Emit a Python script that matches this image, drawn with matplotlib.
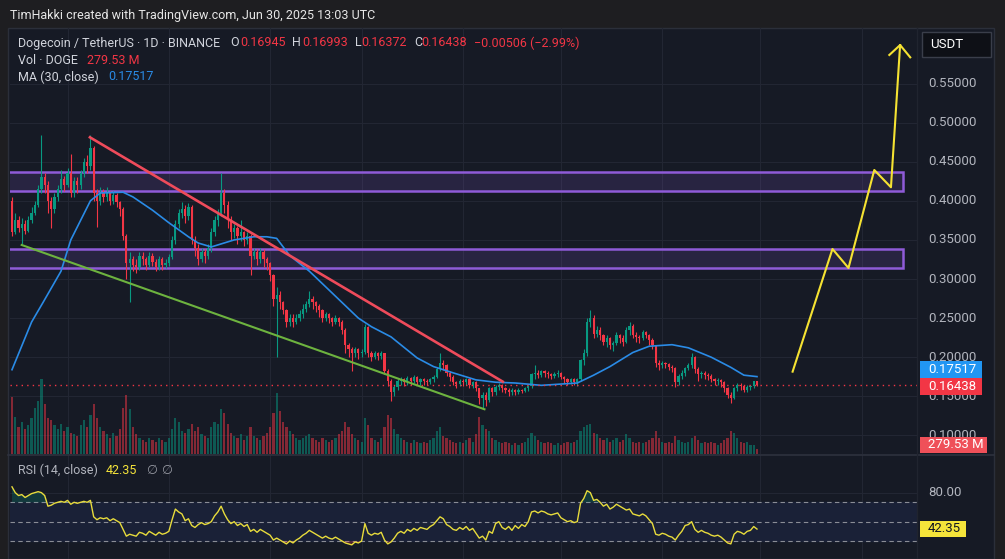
import matplotlib
matplotlib.use("Agg")
import matplotlib.pyplot as plt
import matplotlib.transforms as mtransforms
from matplotlib.patches import Rectangle
from matplotlib.lines import Line2D
import numpy as np

plt.rcParams['font.family'] = ['Roboto', 'DejaVu Sans']

# DOGE/USDT daily candles, 14 Nov 2024 .. 30 Jun 2025
first_open = 0.40
closes = [0.360, 0.375, 0.365, 0.370, 0.362, 0.375, 0.385, 0.395, 0.415, 0.430,
          0.420, 0.400, 0.390, 0.405, 0.415, 0.428, 0.420, 0.435, 0.410, 0.425,
          0.420, 0.435, 0.450, 0.445, 0.467, 0.410, 0.400, 0.410, 0.405, 0.410,
          0.400, 0.408, 0.398, 0.390, 0.355, 0.320, 0.325, 0.318, 0.315, 0.330,
          0.325, 0.318, 0.330, 0.322, 0.315, 0.325, 0.318, 0.320, 0.328, 0.350,
          0.370, 0.385, 0.390, 0.380, 0.392, 0.350, 0.340, 0.325, 0.335, 0.330,
          0.340, 0.360, 0.375, 0.385, 0.410, 0.395, 0.375, 0.360, 0.365, 0.355,
          0.360, 0.350, 0.355, 0.330, 0.335, 0.325, 0.335, 0.325, 0.320, 0.305,
          0.275, 0.280, 0.270, 0.260, 0.245, 0.250, 0.245, 0.250, 0.255, 0.262,
          0.268, 0.275, 0.270, 0.265, 0.260, 0.250, 0.255, 0.250, 0.245, 0.250,
          0.245, 0.235, 0.215, 0.210, 0.205, 0.210, 0.205, 0.207, 0.238, 0.205,
          0.200, 0.205, 0.202, 0.205, 0.182, 0.170, 0.155, 0.162, 0.170, 0.172,
          0.168, 0.174, 0.170, 0.175, 0.168, 0.172, 0.170, 0.168, 0.172, 0.175,
          0.185, 0.193, 0.190, 0.180, 0.175, 0.168, 0.166, 0.170, 0.168, 0.172,
          0.165, 0.168, 0.160, 0.148, 0.152, 0.145, 0.160, 0.155, 0.162, 0.165,
          0.160, 0.158, 0.155, 0.158, 0.156, 0.158, 0.157, 0.160, 0.163, 0.178,
          0.180, 0.177, 0.182, 0.180, 0.178, 0.176, 0.178, 0.180, 0.175, 0.172,
          0.168, 0.172, 0.168, 0.172, 0.196, 0.205, 0.245, 0.250, 0.230, 0.235,
          0.228, 0.220, 0.225, 0.215, 0.218, 0.228, 0.225, 0.220, 0.235, 0.240,
          0.228, 0.226, 0.225, 0.232, 0.228, 0.222, 0.215, 0.193, 0.190, 0.192,
          0.191, 0.188, 0.186, 0.168, 0.176, 0.180, 0.186, 0.190, 0.200, 0.185,
          0.178, 0.180, 0.177, 0.176, 0.172, 0.170, 0.171, 0.168, 0.160, 0.152,
          0.148, 0.160, 0.165, 0.163, 0.158, 0.162, 0.163, 0.16945, 0.16438]
highs = [0.405, 0.385, 0.380, 0.378, 0.375, 0.380, 0.392, 0.400, 0.420, 0.484,
         0.435, 0.425, 0.405, 0.410, 0.420, 0.440, 0.432, 0.442, 0.460, 0.430,
         0.430, 0.440, 0.455, 0.458, 0.484, 0.470, 0.415, 0.418, 0.415, 0.418,
         0.412, 0.412, 0.410, 0.400, 0.392, 0.358, 0.335, 0.330, 0.325, 0.335,
         0.335, 0.328, 0.335, 0.333, 0.325, 0.330, 0.328, 0.326, 0.332, 0.355,
         0.375, 0.390, 0.398, 0.395, 0.397, 0.394, 0.355, 0.345, 0.340, 0.338,
         0.345, 0.365, 0.380, 0.390, 0.435, 0.415, 0.400, 0.380, 0.370, 0.368,
         0.375, 0.362, 0.360, 0.358, 0.340, 0.338, 0.340, 0.338, 0.328, 0.322,
         0.307, 0.290, 0.285, 0.272, 0.262, 0.255, 0.255, 0.255, 0.260, 0.268,
         0.272, 0.285, 0.278, 0.272, 0.268, 0.262, 0.258, 0.257, 0.252, 0.254,
         0.252, 0.248, 0.237, 0.218, 0.213, 0.213, 0.212, 0.210, 0.242, 0.240,
         0.208, 0.208, 0.207, 0.208, 0.206, 0.185, 0.172, 0.165, 0.172, 0.175,
         0.174, 0.176, 0.175, 0.177, 0.176, 0.174, 0.173, 0.172, 0.174, 0.177,
         0.187, 0.206, 0.196, 0.191, 0.182, 0.177, 0.170, 0.172, 0.172, 0.174,
         0.173, 0.170, 0.169, 0.161, 0.156, 0.155, 0.162, 0.162, 0.164, 0.167,
         0.166, 0.162, 0.160, 0.160, 0.159, 0.160, 0.159, 0.162, 0.165, 0.180,
         0.190, 0.183, 0.184, 0.184, 0.182, 0.180, 0.181, 0.183, 0.181, 0.176,
         0.174, 0.174, 0.173, 0.174, 0.198, 0.210, 0.250, 0.260, 0.254, 0.240,
         0.238, 0.230, 0.228, 0.226, 0.221, 0.232, 0.230, 0.228, 0.238, 0.245,
         0.242, 0.232, 0.229, 0.235, 0.234, 0.230, 0.224, 0.216, 0.196, 0.195,
         0.194, 0.193, 0.190, 0.188, 0.178, 0.183, 0.188, 0.192, 0.206, 0.201,
         0.187, 0.182, 0.182, 0.180, 0.178, 0.174, 0.173, 0.172, 0.170, 0.162,
         0.155, 0.162, 0.167, 0.167, 0.165, 0.164, 0.165, 0.170, 0.16993]
lows = [0.355, 0.358, 0.360, 0.345, 0.358, 0.360, 0.372, 0.382, 0.392, 0.410,
        0.410, 0.385, 0.365, 0.385, 0.400, 0.410, 0.412, 0.418, 0.405, 0.405,
        0.410, 0.415, 0.430, 0.435, 0.440, 0.400, 0.367, 0.395, 0.398, 0.400,
        0.395, 0.396, 0.392, 0.380, 0.350, 0.300, 0.270, 0.310, 0.308, 0.312,
        0.318, 0.312, 0.315, 0.316, 0.310, 0.312, 0.312, 0.314, 0.316, 0.325,
        0.345, 0.365, 0.378, 0.372, 0.375, 0.345, 0.330, 0.318, 0.322, 0.320,
        0.325, 0.335, 0.355, 0.368, 0.380, 0.385, 0.365, 0.350, 0.352, 0.345,
        0.348, 0.342, 0.345, 0.305, 0.325, 0.318, 0.320, 0.315, 0.312, 0.298,
        0.265, 0.200, 0.262, 0.255, 0.238, 0.240, 0.238, 0.242, 0.246, 0.250,
        0.258, 0.264, 0.262, 0.258, 0.252, 0.245, 0.246, 0.244, 0.240, 0.242,
        0.240, 0.230, 0.205, 0.200, 0.182, 0.200, 0.198, 0.200, 0.204, 0.200,
        0.195, 0.198, 0.196, 0.198, 0.178, 0.163, 0.144, 0.150, 0.158, 0.165,
        0.163, 0.165, 0.165, 0.167, 0.164, 0.165, 0.165, 0.164, 0.166, 0.168,
        0.173, 0.182, 0.184, 0.176, 0.170, 0.164, 0.161, 0.163, 0.163, 0.165,
        0.160, 0.160, 0.157, 0.140, 0.134, 0.137, 0.143, 0.151, 0.152, 0.158,
        0.156, 0.154, 0.151, 0.152, 0.152, 0.153, 0.154, 0.155, 0.157, 0.161,
        0.172, 0.173, 0.175, 0.175, 0.174, 0.172, 0.173, 0.175, 0.172, 0.167,
        0.164, 0.166, 0.165, 0.163, 0.170, 0.190, 0.202, 0.238, 0.225, 0.226,
        0.222, 0.215, 0.213, 0.210, 0.208, 0.215, 0.218, 0.214, 0.218, 0.228,
        0.224, 0.220, 0.218, 0.222, 0.224, 0.216, 0.210, 0.188, 0.184, 0.186,
        0.186, 0.183, 0.181, 0.162, 0.164, 0.172, 0.176, 0.183, 0.186, 0.180,
        0.170, 0.174, 0.172, 0.171, 0.168, 0.164, 0.165, 0.162, 0.155, 0.148,
        0.142, 0.146, 0.157, 0.158, 0.155, 0.155, 0.158, 0.161, 0.16372]
# volume in millions of DOGE
volumes = [3200, 2100, 1500, 1800, 1400, 1600, 2000, 2600, 3000, 4200, 2800, 2000, 1900,
           1600, 1400, 1700, 1300, 1500, 1200, 1100, 1000, 1600, 1900, 1500, 2200,
           2800, 2000, 1500, 1300, 1100, 900, 1200, 1000, 1400, 2600, 3300, 2500,
           1500, 1100, 900, 800, 700, 900, 800, 700, 900, 800, 700, 900,
           1400, 2000, 1800, 1300, 1200, 1400, 1700, 1300, 1500, 1100, 1000, 900,
           1500, 1800, 1700, 2500, 2300, 1700, 1200, 1000, 900, 1100, 800, 1000,
           1500, 1000, 900, 800, 1000, 1200, 1500, 2300, 3400, 2400, 1800, 1500,
           1300, 1100, 900, 800, 900, 1000, 1100, 900, 800, 700, 900, 800,
           700, 800, 900, 1100, 1300, 1800, 1500, 1100, 900, 800, 700, 2000,
           1600, 900, 800, 700, 900, 1500, 2200, 2000, 1400, 1100, 900, 800,
           700, 600, 800, 700, 600, 700, 600, 800, 900, 1300, 1500, 1000,
           900, 800, 700, 600, 700, 600, 800, 900, 700, 1100, 2100, 1600,
           1400, 1300, 900, 800, 700, 600, 700, 600, 500, 600, 500, 600,
           700, 900, 1200, 1000, 800, 700, 600, 700, 600, 500, 600, 500,
           600, 700, 600, 700, 800, 1300, 1500, 1600, 1700, 1200, 1100, 900,
           800, 900, 700, 800, 900, 700, 800, 1100, 900, 700, 600, 700,
           600, 700, 800, 900, 1300, 900, 700, 600, 700, 600, 1000, 800,
           700, 600, 700, 900, 1000, 800, 600, 700, 600, 700, 600, 500,
           600, 800, 900, 1300, 1200, 900, 700, 600, 700, 500, 500, 280]
rsi = [86, 80, 77, 78, 75, 77, 79, 80, 81, 80,
       77, 66, 67, 69, 70, 71, 70, 72, 68, 70,
       69, 70, 71, 70, 72, 55, 52, 54, 53, 54,
       51, 53, 51, 49, 42, 35, 37, 36, 35, 39,
       38, 36, 40, 38, 36, 39, 37, 38, 40, 52,
       63, 60, 58, 51, 53, 46, 44, 47, 49, 47,
       48, 50, 56, 60, 66, 58, 52, 48, 50, 46,
       48, 45, 47, 40, 42, 39, 42, 40, 38, 36,
       31, 33, 31, 29, 27, 30, 28, 31, 33, 36,
       38, 41, 39, 37, 35, 33, 35, 33, 32, 34,
       32, 30, 28, 27, 26, 29, 28, 30, 48, 38,
       36, 38, 37, 39, 31, 27, 29, 33, 38, 40,
       38, 42, 40, 43, 41, 44, 43, 42, 45, 47,
       51, 55, 53, 47, 45, 42, 41, 44, 42, 45,
       41, 43, 38, 33, 35, 31, 40, 38, 48, 50,
       44, 42, 45, 41, 46, 43, 47, 45, 50, 60,
       61, 59, 61, 60, 58, 57, 58, 59, 54, 52,
       50, 51, 49, 50, 69, 74, 82, 80, 72, 73,
       70, 66, 68, 63, 65, 68, 66, 64, 62, 63,
       58, 57, 56, 58, 56, 52, 48, 37, 36, 38,
       37, 35, 34, 31, 36, 40, 46, 47, 50, 42,
       39, 41, 39, 38, 36, 35, 36, 34, 31, 28,
       27, 37, 40, 39, 37, 40, 41, 45, 42.35]
ma_days = [0, 6, 9.5, 15, 18, 24, 27, 34, 37, 43, 48, 54, 57, 61, 68, 74, 78, 81,
           85, 91, 96, 101, 106, 110, 116, 124, 129, 135, 142, 148, 154, 162, 173,
           178, 183, 190, 195, 202, 207, 214, 220, 224, 228]
ma_values = [0.184, 0.245, 0.270, 0.310, 0.350, 0.400, 0.410, 0.411, 0.405, 0.388,
             0.372, 0.354, 0.346, 0.341, 0.350, 0.354, 0.354, 0.352, 0.330, 0.310,
             0.290, 0.270, 0.250, 0.239, 0.226, 0.199, 0.188, 0.180, 0.171, 0.168,
             0.167, 0.164, 0.167, 0.177, 0.188, 0.206, 0.214, 0.216, 0.212, 0.200,
             0.187, 0.177, 0.17517]

price_ticks = [0.55, 0.50, 0.45, 0.40, 0.35, 0.30, 0.25, 0.20, 0.15, 0.10]
month_days = [17, 48, 79, 107, 138, 168, 199, 229, 260]
zone_bottoms = [0.4125, 0.3137]
zone_tops = [0.4364, 0.3380]
zone_end_day = 272.8
red_line_days = [23.85, 150.2]
red_line_prices = [0.4812, 0.1687]
green_line_days = [2.97, 144.6]
green_line_prices = [0.3435, 0.1334]
path_days = [238.9, 251.1, 256.0, 263.9, 269.0, 271.8]
path_prices = [0.1815, 0.3384, 0.3141, 0.4394, 0.4173, 0.5992]
arrow_days = [268.5, 271.8, 274.9]
arrow_prices = [0.5865, 0.5992, 0.5835]

W, H = 1005, 559
BG = '#161a25'
GRID = '#222633'
TXT = '#d1d4dc'
AXT = '#b2b5be'
UP = '#089981'
DOWN = '#f23645'


def fx(x):
    return x / W


def fy(y):
    return 1 - y / H


fig = plt.figure(figsize=(W / 100, H / 100), dpi=100, facecolor='#1e1e21')
fig.patches.append(Rectangle((fx(8), 0), fx(994) - fx(8), fy(28), transform=fig.transFigure,
                             facecolor=BG, edgecolor='#2b2f3a', lw=1, zorder=-1))

rect_main = [fx(10), fy(454), fx(917) - fx(10), (454 - 28) / H]
ax_vol = fig.add_axes(rect_main)
ax = fig.add_axes(rect_main)
ax_rsi = fig.add_axes([fx(10), 0, fx(917) - fx(10), (559 - 455) / H])
for a in (ax_vol, ax, ax_rsi):
    a.set_facecolor('none')
    a.set_xticks([])
    a.set_yticks([])
    for s in a.spines.values():
        s.set_visible(False)

days = np.arange(len(closes))
c = np.array(closes)
o = np.concatenate([[first_open], c[:-1]])
up = c >= o
cols = np.where(up, UP, DOWN)

# grid
for d in month_days:
    ax_vol.axvline(d, color=GRID, lw=0.8, zorder=0)
    ax_rsi.axvline(d, color=GRID, lw=0.8, zorder=0)
ax_vol.hlines(price_ticks, -1, 280, colors=GRID, lw=0.8, transform=ax.transData, zorder=0)

# volume
ax_vol.bar(days, volumes, width=0.68, color=cols, alpha=0.5, linewidth=0)

# zones
for lo, hi in zip(zone_bottoms, zone_tops):
    ax.add_patch(Rectangle((-2, lo), zone_end_day + 2, hi - lo, facecolor='#7e57c2',
                           alpha=0.18, edgecolor='none', zorder=1))
    ax.add_patch(Rectangle((-2, lo), zone_end_day + 2, hi - lo, facecolor='none',
                           edgecolor='#8f5bd8', lw=1.8, zorder=1))

# candles
ax.vlines(days, lows, highs, colors=cols, lw=0.8, zorder=2)
ax.bar(days, np.maximum(np.abs(c - o), 0.0012), bottom=np.minimum(o, c), width=0.68,
       color=cols, linewidth=0, zorder=3)

ax.plot(ma_days, ma_values, color='#2a8be6', lw=1.2, zorder=4)
ax.axhline(closes[-1], color=DOWN, lw=1, ls=(0, (1, 3)), zorder=4)

ax.plot(red_line_days, red_line_prices, color='#ef4b5b', lw=1.9, zorder=5)
ax.plot(green_line_days, green_line_prices, color='#6db33f', lw=1.5, zorder=5)
ax.plot(path_days, path_prices, color='#f5e232', lw=1.5, zorder=5)
ax.plot(arrow_days, arrow_prices, color='#f5e232', lw=1.5, zorder=5)

ax.set_xlim(-0.61, 276.97)
ax_vol.set_xlim(-0.61, 276.97)
ax_rsi.set_xlim(-0.61, 276.97)
ax.set_ylim(0.0762, 0.6210)
ax_vol.set_ylim(0, 23900)

# RSI pane
r = np.array(rsi)
ax_rsi.axhspan(30, 70, color='#1a2137', zorder=0)
ax_rsi.axhline(80, color=GRID, lw=0.8, zorder=0)
for lv in (70, 50, 30):
    ax_rsi.axhline(lv, color='#8a8d96', lw=0.8, ls=(0, (4, 3)), zorder=1)
ax_rsi.fill_between(days, r, 70, where=r >= 70, interpolate=True, color=UP, alpha=0.25, lw=0)
ax_rsi.fill_between(days, r, 30, where=r <= 30, interpolate=True, color=DOWN, alpha=0.25, lw=0)
ax_rsi.plot(days, r, color='#e8dc3c', lw=1, zorder=3)
ax_rsi.set_ylim(11.4, 118.9)

# separators
fig.add_artist(Line2D([fx(8), fx(994)], [fy(454.5), fy(454.5)], color='#2e323e', lw=1.2))
fig.add_artist(Line2D([fx(917), fx(917)], [0, fy(28)], color='#20242f', lw=1))

# price scale
tr_main = mtransforms.blended_transform_factory(fig.transFigure, ax.transData)
for p in price_ticks:
    fig.text(fx(928), p, f"{p:.5f}", transform=tr_main, ha='left', va='center',
             color=AXT, fontsize=9.5, zorder=3)
tr_rsi = mtransforms.blended_transform_factory(fig.transFigure, ax_rsi.transData)
fig.text(fx(928), 80, "80.00", transform=tr_rsi, ha='left', va='center', color=AXT, fontsize=9.5)


def tag(x0, x1, y0, y1, face, label, tcolor='white', edge='none'):
    fig.patches.append(Rectangle((fx(x0), fy(y1)), fx(x1) - fx(x0), (y1 - y0) / H,
                                 transform=fig.transFigure, facecolor=face, edgecolor=edge,
                                 lw=1, zorder=4))
    fig.text(fx(x0 + 8), fy((y0 + y1) / 2), label, ha='left', va='center',
             color=tcolor, fontsize=9.5, zorder=5)


tag(922, 991, 32, 57, '#0e1016', 'USDT', edge='#3a3e4a')
tag(920, 982, 361, 378, '#2196f3', '0.17517')
tag(920, 982, 378, 394.5, '#f23645', '0.16438')
tag(920, 987, 437, 453, '#ef5059', '279.53 M')
tag(920, 966, 521, 537, '#f5e43a', '42.35', tcolor='#131722')

# header and legends
fig.text(fx(10), fy(15.5), "TimHakki created with TradingView.com, Jun 30, 2025 13:03 UTC",
         ha='left', va='center', color='#e6e6e6', fontsize=9)

legend_rows = [
    (43, [("Dogecoin / TetherUS · 1D · BINANCE", 18, TXT), ("O", 230, TXT), ("0.16945", 240, DOWN),
          ("H", 292, TXT), ("0.16993", 302, DOWN), ("L", 355, TXT), ("0.16372", 361, DOWN),
          ("C", 414, TXT), ("0.16438", 421, DOWN), ("\u22120.00506 (\u22122.99%)", 474, DOWN)]),
    (60, [("Vol · DOGE", 18, TXT), ("279.53 M", 87, DOWN)]),
    (77, [("MA (30, close)", 18, TXT), ("0.17517", 108, '#2a8be6')]),
    (470, [("RSI (14, close)", 18, AXT), ("42.35", 106, '#f5e43a'), ("\u2205", 146, '#9598a1'),
           ("\u2205", 161, '#9598a1')]),
]
for y, parts in legend_rows:
    for label, x, col in parts:
        fig.text(fx(x), fy(y), label, ha='left', va='center', color=col, fontsize=9)

fig.savefig("out.png", dpi=100, facecolor=fig.get_facecolor())
